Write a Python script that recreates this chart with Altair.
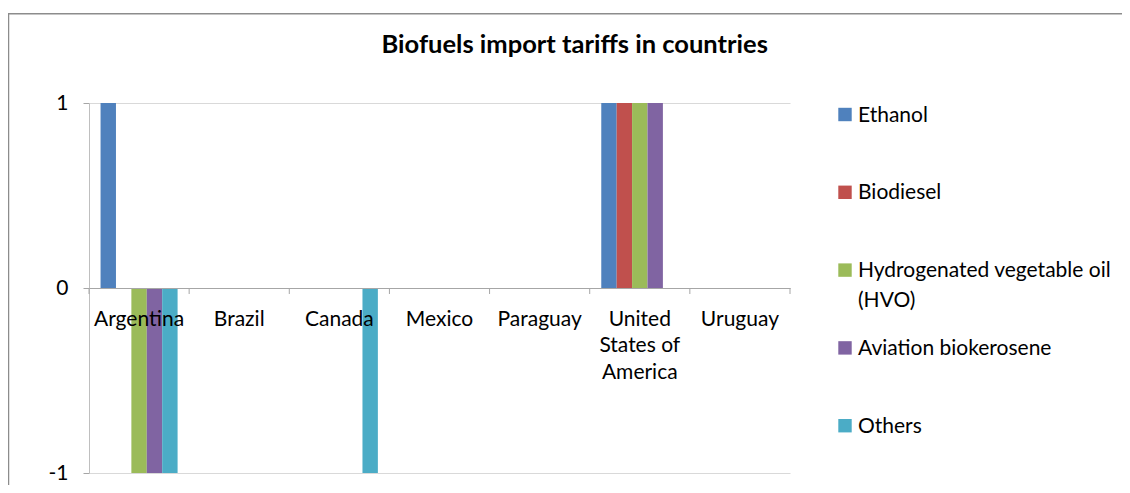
import altair as alt
import pandas as pd

# ---- data ----
countries = ["Argentina", "Brazil", "Canada", "Mexico", "Paraguay",
             "United States of America", "Uruguay"]
country_lines = [["Argentina"], ["Brazil"], ["Canada"], ["Mexico"], ["Paraguay"],
                 ["United", "States of", "America"], ["Uruguay"]]
fuels = ["Ethanol", "Biodiesel", "Hydrogenated vegetable oil (HVO)",
         "Aviation biokerosene", "Others"]
fuel_lines = [["Ethanol"], ["Biodiesel"], ["Hydrogenated vegetable oil", "(HVO)"],
              ["Aviation biokerosene"], ["Others"]]
ethanol = [1, 0, 0, 0, 0, 1, 0]
biodiesel = [0, 0, 0, 0, 0, 1, 0]
hvo = [-1, 0, 0, 0, 0, 1, 0]
aviation = [-1, 0, 0, 0, 0, 1, 0]
others = [-1, 0, -1, 0, 0, 0, 0]
y_ticks = [-1, 0, 1]
title_text = "Biofuels import tariffs in countries"

# ---- styles ----
colors = ["#4F81BD", "#C0504D", "#9BBB59", "#8064A2", "#4BACC6"]
FONT = "Lato"
FS = 21
AXIS_GRAY = "#a6a6a6"
GRID_GRAY = "#d9d9d9"
W, H = 701, 370

series = [ethanol, biodiesel, hvo, aviation, others]
rows = []
for f, vals in zip(fuels, series):
    for c, v in zip(countries, vals):
        rows.append({"country": c, "fuel": f, "value": v})
df = pd.DataFrame(rows)

# label expression for multi-line category labels
expr = "datum.label"
for c, lines in zip(countries, country_lines):
    if len(lines) > 1:
        arr = "[" + ",".join("'" + s + "'" for s in lines) + "]"
        expr = f"datum.label == '{c}' ? {arr} : ({expr})"

color_scale = alt.Scale(domain=fuels, range=colors)

bars = alt.Chart(df).mark_bar().encode(
    x=alt.X("country:N", sort=countries,
            scale=alt.Scale(paddingInner=0, paddingOuter=0),
            axis=alt.Axis(title=None, labelAngle=0, offset=-H / 2, ticks=False,
                          domainColor=AXIS_GRAY, domainWidth=1,
                          labelPadding=20, labelFontSize=FS, labelFont=FONT,
                          labelColor="#000000", labelExpr=expr,
                          labelLineHeight=26.7, labelBaseline="top",
                          labelOverlap=False, labelLimit=0, grid=False, zindex=1)),
    xOffset=alt.XOffset("fuel:N", sort=fuels,
                        scale=alt.Scale(paddingInner=0, paddingOuter=0.75)),
    y=alt.Y("value:Q", scale=alt.Scale(domain=[-1, 1], nice=False),
            axis=alt.Axis(values=y_ticks, title=None, grid=True, gridColor=GRID_GRAY,
                          domainColor="#bfbfbf", tickColor=AXIS_GRAY, tickSize=6,
                          labelPadding=15, labelFontSize=FS, labelFont=FONT,
                          labelColor="#000000", labelExpr="'' + datum.value")),
    color=alt.Color("fuel:N", sort=fuels, scale=color_scale, legend=None),
)

tick_df = pd.DataFrame({"country": countries})
tick_rules = alt.Chart(tick_df).mark_rule(color=AXIS_GRAY, strokeWidth=1).encode(
    x=alt.X("country:N", sort=countries, bandPosition=0),
    y=alt.datum(0), y2=alt.value(H / 2 + 6),
)
end_rule = alt.Chart(pd.DataFrame({"country": [countries[-1]]})).mark_rule(
    color=AXIS_GRAY, strokeWidth=1).encode(
    x=alt.X("country:N", sort=countries, bandPosition=1),
    y=alt.datum(0), y2=alt.value(H / 2 + 6),
)

frame = alt.Chart(pd.DataFrame({"a": [0]})).mark_rect(
    fillOpacity=0, stroke="#8c8c8c", strokeWidth=1.5, clip=False).encode(
    x=alt.value(-80.5), x2=alt.value(1200), y=alt.value(-89.3), y2=alt.value(600))

title = alt.Chart(pd.DataFrame({"t": [title_text]})).mark_text(
    font=FONT, fontSize=25.5, fontWeight="bold", align="center",
    baseline="alphabetic", color="#000000").encode(
    text="t:N", x=alt.value(485.7), y=alt.value(-49.7))

leg_df = pd.DataFrame({"fuel": fuels, "label": ["|".join(l) for l in fuel_lines]})
leg_y = alt.Y("fuel:N", sort=fuels, axis=None,
              scale=alt.Scale(type="point", range=[11.5, 322.7], padding=0))
leg_sq = alt.Chart(leg_df).mark_square(size=180, opacity=1).encode(
    x=alt.value(756), y=leg_y,
    color=alt.Color("fuel:N", sort=fuels, scale=color_scale, legend=None))
leg_txt = alt.Chart(leg_df).transform_calculate(
    lines="split(datum.label, '|')").mark_text(
    align="left", baseline="top", dy=-10, fontSize=FS, font=FONT,
    lineHeight=29.5, color="#000000").encode(
    x=alt.value(769), y=leg_y, text="lines:N")

main = alt.layer(frame, bars, tick_rules, end_rule, title)
legend = alt.layer(leg_sq, leg_txt)

chart = alt.layer(main, legend).resolve_scale(y="independent").properties(
    width=W, height=H,
    padding={"left": 81, "top": 95, "right": 332, "bottom": 12},
    autosize=alt.AutoSizeParams(type="none"),
).configure_view(stroke=None)

chart.save("out.html", embed_options={"renderer": "svg", "actions": False})
